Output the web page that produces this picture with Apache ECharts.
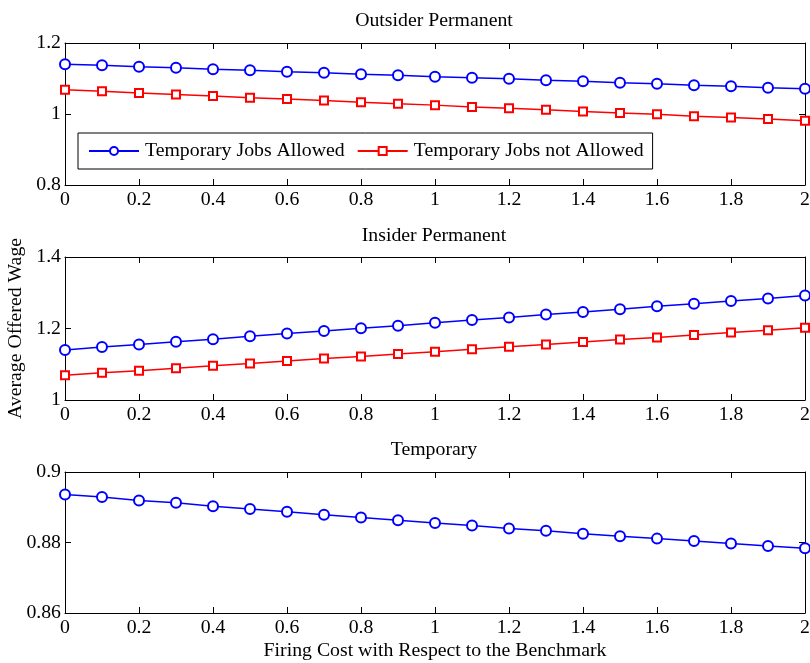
<!DOCTYPE html>
<html>
<head>
<meta charset="utf-8">
<script src="https://cdn.jsdelivr.net/npm/echarts@6/dist/echarts.min.js"></script>
<style>html,body{margin:0;padding:0;background:#fff}#c{width:810px;height:663px}</style>
</head>
<body>
<div id="c"></div>
<script>
var firingCost = [0, 0.1, 0.2, 0.3, 0.4, 0.5, 0.6, 0.7, 0.8, 0.9, 1.0, 1.1, 1.2, 1.3, 1.4, 1.5, 1.6, 1.7, 1.8, 1.9, 2.0];
var outsiderAllowed = [1.140, 1.137, 1.133, 1.130, 1.126, 1.123, 1.119, 1.116, 1.112, 1.109, 1.105, 1.102, 1.099, 1.095, 1.092, 1.088, 1.085, 1.081, 1.078, 1.074, 1.071];
var outsiderNotAllowed = [1.068, 1.064, 1.059, 1.055, 1.051, 1.046, 1.042, 1.038, 1.033, 1.029, 1.025, 1.020, 1.016, 1.012, 1.007, 1.003, 0.999, 0.994, 0.990, 0.986, 0.981];
var insiderAllowed = [1.140, 1.148, 1.155, 1.163, 1.170, 1.178, 1.186, 1.193, 1.201, 1.208, 1.216, 1.224, 1.231, 1.239, 1.246, 1.254, 1.262, 1.269, 1.277, 1.284, 1.292];
var insiderNotAllowed = [1.069, 1.076, 1.082, 1.089, 1.096, 1.102, 1.109, 1.116, 1.122, 1.129, 1.135, 1.142, 1.149, 1.155, 1.162, 1.169, 1.175, 1.182, 1.189, 1.195, 1.202];
var temporaryAllowed = [0.8936, 0.8929, 0.8919, 0.8913, 0.8903, 0.8895, 0.8887, 0.8879, 0.8871, 0.8863, 0.8855, 0.8848, 0.8840, 0.8833, 0.8825, 0.8818, 0.8811, 0.8804, 0.8797, 0.8790, 0.8784];

var panelTitles = ['Outsider Permanent', 'Insider Permanent', 'Temporary'];
var yRanges = [[0.8, 1.2, 0.2], [1.0, 1.4, 0.2], [0.86, 0.9, 0.02]];
var seriesNames = ['Temporary Jobs Allowed', 'Temporary Jobs not Allowed'];
var xName = 'Firing Cost with Respect to the Benchmark';
var yName = 'Average Offered Wage';

function pairs(ys) { return firingCost.map(function (x, i) { return [x, ys[i]]; }); }

var FONT = 'Liberation Serif';
var FS = 19.8;
var grids = [
  {left: 65, right: 5, top: 43, height: 142, outerBoundsMode: 'none', containLabel: false},
  {left: 65, right: 5, top: 257, height: 143, outerBoundsMode: 'none', containLabel: false},
  {left: 65, right: 5, top: 472, height: 141, outerBoundsMode: 'none', containLabel: false}
];
var xAxes = [], yAxes = [];
grids.forEach(function (g, i) {
  var base = {
    gridIndex: i, type: 'value', min: 0, max: 2, interval: 0.2,
    axisLine: {show: true, onZero: false, lineStyle: {color: '#000', width: 1}},
    axisTick: {show: true, inside: true, length: 6, lineStyle: {color: '#000'}},
    splitLine: {show: false}
  };
  xAxes.push(Object.assign({}, base, {
    position: 'bottom',
    axisLabel: {show: true, color: '#000', fontFamily: FONT, fontSize: FS, margin: 5},
    name: i === 2 ? xName : '', nameLocation: 'middle', nameGap: 28,
    nameTextStyle: {color: '#000', fontFamily: FONT, fontSize: FS}
  }));
  xAxes.push(Object.assign({}, base, {position: 'top', axisLabel: {show: false}}));
  var r = yRanges[i];
  var ybase = {
    gridIndex: i, type: 'value', min: r[0], max: r[1], interval: r[2],
    axisLine: {show: true, onZero: false, lineStyle: {color: '#000', width: 1}},
    axisTick: {show: true, inside: true, length: 6, lineStyle: {color: '#000'}},
    splitLine: {show: false}
  };
  yAxes.push(Object.assign({}, ybase, {
    position: 'left',
    axisLabel: {show: true, color: '#000', fontFamily: FONT, fontSize: FS, margin: 4},
    name: i === 1 ? yName : '', nameLocation: 'middle', nameGap: 38,
    nameTextStyle: {color: '#000', fontFamily: FONT, fontSize: FS}
  }));
  yAxes.push(Object.assign({}, ybase, {position: 'right', axisLabel: {show: false}}));
});

function lineSeries(name, data, gi, color, symbol, size) {
  return {
    name: name, type: 'line', xAxisIndex: gi * 2, yAxisIndex: gi * 2,
    data: pairs(data), symbol: symbol, symbolSize: size, showAllSymbol: true,
    clip: false,
    lineStyle: {color: color, width: 1.5},
    itemStyle: {color: color, borderColor: color, borderWidth: 1.5},
    animation: false
  };
}

var option = {
  backgroundColor: '#fff',
  animation: false,
  graphic: panelTitles.map(function (t, i) {
    return {type: 'text', x: 434, y: [21, 236, 450][i],
      style: {text: t, fill: '#000', font: FS + 'px "' + FONT + '"', align: 'center', verticalAlign: 'middle'}};
  }),
  grid: grids,
  xAxis: xAxes,
  yAxis: yAxes,
  legend: {
    left: 78, top: 133, orient: 'horizontal',
    padding: [8, 9, 8, 10], itemGap: 12, itemWidth: 50, itemHeight: 10,
    borderColor: '#000', borderWidth: 1, backgroundColor: '#fff',
    textStyle: {color: '#000', fontFamily: FONT, fontSize: FS, padding: [0, 0, 0, 1]},
    data: seriesNames
  },
  series: [
    lineSeries(seriesNames[0], outsiderAllowed, 0, '#0000ff', 'emptyCircle', 10),
    lineSeries(seriesNames[1], outsiderNotAllowed, 0, '#ff0000', 'emptyRect', 8),
    lineSeries(seriesNames[0], insiderAllowed, 1, '#0000ff', 'emptyCircle', 10),
    lineSeries(seriesNames[1], insiderNotAllowed, 1, '#ff0000', 'emptyRect', 8),
    lineSeries(seriesNames[0], temporaryAllowed, 2, '#0000ff', 'emptyCircle', 10)
  ]
};
var chart = echarts.init(document.getElementById('c'), null, {renderer: 'canvas'});
chart.setOption(option);
</script>
</body>
</html>
